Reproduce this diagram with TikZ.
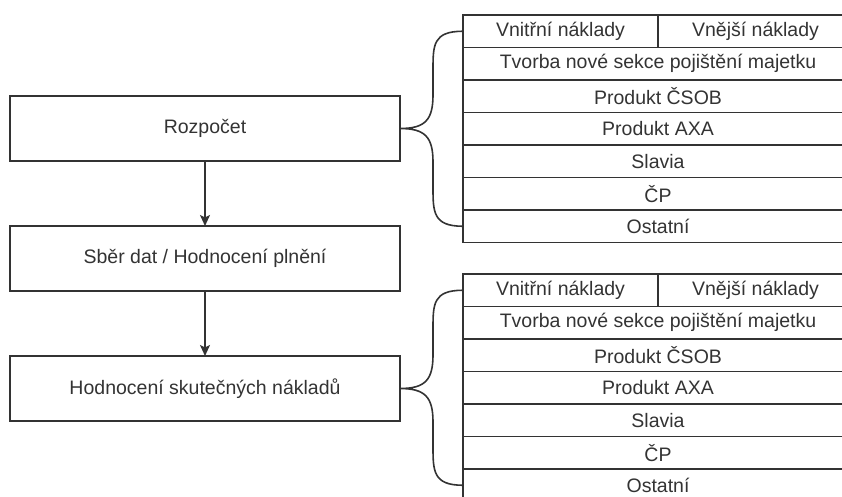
\documentclass[tikz,border=0pt]{standalone}
\usepackage{fontspec}
\setmainfont{Liberation Sans}
\usetikzlibrary{arrows.meta}
\definecolor{ln}{HTML}{333333}
\definecolor{tx}{HTML}{333333}
\tikzset{
  base/.style={draw=ln, line width=1.6pt, text=tx, inner sep=0pt, outer sep=0pt,
    font=\fontsize{19.5}{23}\selectfont},
  stage/.style={base, minimum width=390pt, minimum height=65pt},
  cell/.style={base, minimum width=390pt, minimum height=32.5pt},
  halfcell/.style={base, minimum width=195pt, minimum height=32.5pt},
  brace/.style={draw=ln, line width=1.6pt},
  flow/.style={draw=ln, line width=1.6pt, -{Stealth[length=11pt,width=10pt,inset=2.5pt]}}
}
\begin{document}
\begin{tikzpicture}[x=1pt,y=-1pt]
\useasboundingbox (0,0) rectangle (842,496);
\clip (0,0) rectangle (842,496);
% stages
\node[stage] (s1) at (205,128.5) {Rozpočet};
\node[stage] (s2) at (205,258.5) {Sběr dat / Hodnocení plnění};
\node[stage] (s3) at (205,388.5) {Hodnocení skutečných nákladů};
\draw[flow] (s1.south) -- (s2.north);
\draw[flow] (s2.south) -- (s3.north);
% top table
\node[halfcell] (a1) at (560.5,31.25) {Vnitřní náklady};
\node[halfcell] (a1b) at (755.5,31.25) {Vnější náklady};
\node[cell] (a2) at (658,63.75) {Tvorba nové sekce pojištění majetku};
\node[cell] (a3) at (658,96.25) {Produkt ČSOB};
\node[cell] (a4) at (658,128.75) {Produkt AXA};
\node[cell] (a5) at (658,161.25) {Slavia};
\node[cell] (a6) at (658,193.75) {ČP};
\node[cell] (a7) at (658,226.25) {Ostatní};
% bottom table
\node[halfcell] (b1) at (560.5,290.25) {Vnitřní náklady};
\node[halfcell] (b1b) at (755.5,290.25) {Vnější náklady};
\node[cell] (b2) at (658,322.75) {Tvorba nové sekce pojištění majetku};
\node[cell] (b3) at (658,355.25) {Produkt ČSOB};
\node[cell] (b4) at (658,387.75) {Produkt AXA};
\node[cell] (b5) at (658,420.25) {Slavia};
\node[cell] (b6) at (658,452.75) {ČP};
\node[cell] (b7) at (658,485.25) {Ostatní};
% braces
\draw[brace] (a1.west) .. controls +(-30,0) and +(0,-25) .. ([xshift=-30pt]a1.west |- 0,70)
  -- ([xshift=-30pt]a1.west |- 0,95) .. controls +(0,25) and +(25,0) .. (s1.east)
  .. controls +(25,0) and +(0,-25) .. ([xshift=-30pt]a7.west |- 0,162)
  -- ([xshift=-30pt]a7.west |- 0,187) .. controls +(0,25) and +(-30,0) .. (a7.west);
\draw[brace] (b1.west) .. controls +(-30,0) and +(0,-25) .. ([xshift=-30pt]b1.west |- 0,329)
  -- ([xshift=-30pt]b1.west |- 0,355) .. controls +(0,25) and +(25,0) .. (s3.east)
  .. controls +(25,0) and +(0,-25) .. ([xshift=-30pt]b7.west |- 0,422)
  -- ([xshift=-30pt]b7.west |- 0,446) .. controls +(0,25) and +(-30,0) .. (b7.west);
\end{tikzpicture}
\end{document}
